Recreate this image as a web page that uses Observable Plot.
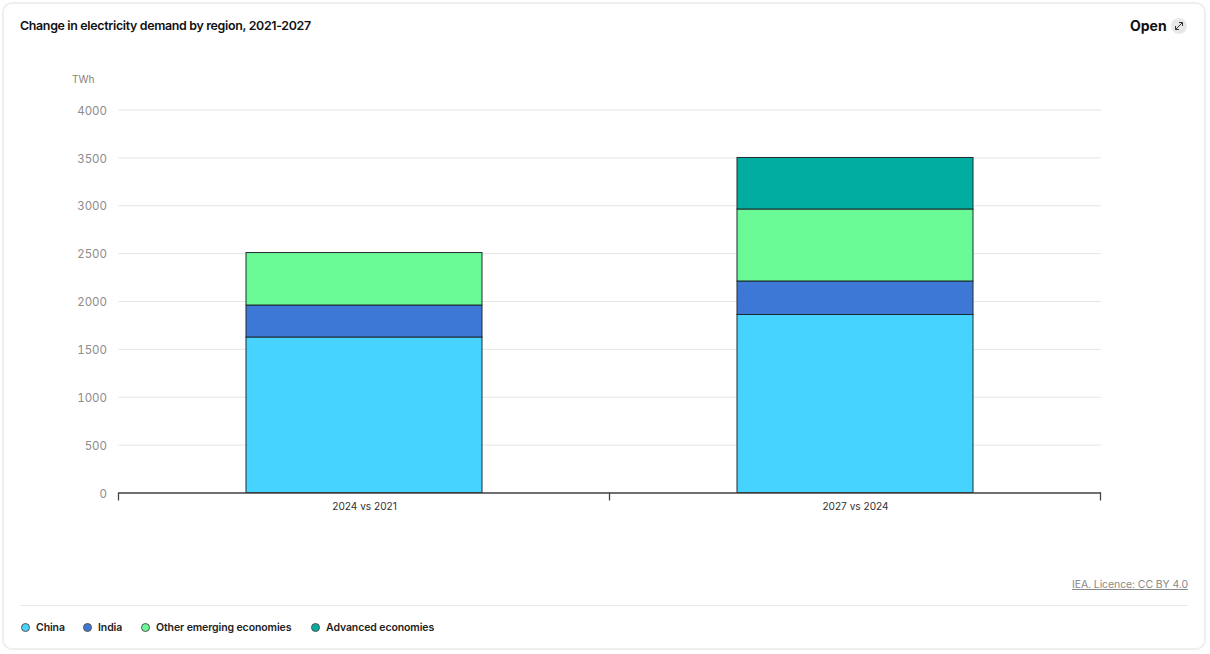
<!DOCTYPE html>
<html>
<head>
<meta charset="utf-8">
<script src="https://cdn.jsdelivr.net/npm/d3@7"></script>
<script src="https://cdn.jsdelivr.net/npm/@observablehq/plot@0.6"></script>
<style>
html,body{margin:0;padding:0;background:#fff;font-family:Inter,sans-serif;}
#page{position:relative;width:1210px;height:654px;overflow:hidden;}
#card{position:absolute;left:2px;top:2px;width:1200px;height:644px;border:2px solid #efefef;border-radius:10px;}
#title{position:absolute;left:20px;top:17px;font-size:12.4px;letter-spacing:-0.32px;font-weight:600;color:#111;line-height:17px;white-space:nowrap;}
#open{position:absolute;left:1130px;top:17px;font-size:14px;font-weight:700;color:#111;line-height:18px;}
#icon{position:absolute;left:1171px;top:18px;width:16px;height:16px;border-radius:50%;background:#e8e8e8;}
#icon svg{display:block;}
#chart{position:absolute;left:0;top:0;}
#licence{position:absolute;right:22px;top:577px;font-size:10.5px;letter-spacing:-0.1px;color:#8a8a8a;text-decoration:underline;line-height:15px;white-space:nowrap;}
#rule{position:absolute;left:20px;top:605px;width:1168px;height:1px;background:#e9e9e9;}
#legend span.item{position:absolute;top:620px;font-size:10.5px;letter-spacing:-0.1px;font-weight:600;color:#222;line-height:16px;white-space:nowrap;}
#legend i{position:absolute;top:623px;width:7px;height:7px;border-radius:50%;border:0.5px solid #555;}
</style>
</head>
<body>
<div id="page">
  <div id="card"></div>
  <div id="title">Change in electricity demand by region, 2021-2027</div>
  <div id="open">Open</div>
  <div id="icon"><svg width="16" height="16" viewBox="0 0 16 16"><path d="M4.5 11.5 L11.5 4.5 M8 4.5 H11.5 V8 M4.5 8 V11.5 H8" fill="none" stroke="#333" stroke-width="1"/></svg></div>
  <div id="chart"></div>
  <div id="licence">IEA. Licence: CC BY 4.0</div>
  <div id="rule"></div>
  <div id="legend"></div>
</div>
<script>
const categories = ["2024 vs 2021", "2027 vs 2024"];
const regions = ["China", "India", "Other emerging economies", "Advanced economies"];
const colours = ["#47D3FF", "#3E78D6", "#69F995", "#00ADA0"];
const china = [1624, 1859];
const india = [334, 350];
const otherEmerging = [548, 752];
const advanced = [0, 538];
const yTicks = [0, 500, 1000, 1500, 2000, 2500, 3000, 3500, 4000];

const seriesValues = [china, india, otherEmerging, advanced];
const rows = regions.flatMap((region, r) =>
  categories.map((category, c) => ({category, region, value: seriesValues[r][c]}))
).filter(d => d.value > 0);

// Tick marks at the boundaries between categories, placed from the band scale.
function bandBoundaries(index, scales, values, dimensions) {
  const x = scales.x, bw = x.bandwidth();
  const step = x(categories[1]) - x(categories[0]);
  const gap = (step - bw) / 2;
  const edges = [x(categories[0]) - gap, x(categories[1]) - gap, x(categories[1]) + bw + gap];
  const y0 = dimensions.height - dimensions.marginBottom;
  const g = d3.create("svg:g");
  g.selectAll("line").data(edges).join("line")
    .attr("x1", d => d).attr("x2", d => d)
    .attr("y1", y0).attr("y2", y0 + 8)
    .attr("stroke", "#444").attr("stroke-width", 1.3);
  return g.node();
}

const plot = Plot.plot({
  width: 1210,
  height: 560,
  marginLeft: 118.5,
  marginRight: 109,
  marginTop: 109.5,
  marginBottom: 67.5,
  style: {fontFamily: "Inter, sans-serif", background: "transparent", overflow: "visible"},
  x: {domain: categories, type: "band", paddingInner: 0.52, paddingOuter: 0.26, align: 0.5, label: null},
  y: {domain: [0, 4000], label: null},
  color: {domain: regions, range: colours},
  marks: [
    Plot.gridY(yTicks, {stroke: "#e6e6e6", strokeOpacity: 1, strokeWidth: 1}),
    Plot.barY(rows, {
      x: "category", y: "value", fill: "region", order: regions,
      stroke: "#1f2a30", strokeWidth: 1
    }),
    Plot.ruleY([0], {stroke: "#444", strokeWidth: 1.3}),
    bandBoundaries,
    Plot.axisY(yTicks, {
      tickSize: 0, tickPadding: 12, dy: 1, fontSize: 11.5, color: "#8c8c8c",
      tickFormat: d3.format("d"), label: null
    }),
    Plot.axisX({tickSize: 0, tickPadding: 10, fontSize: 10.1, color: "#333", label: null}),
    Plot.text(["TWh"], {
      frameAnchor: "top-left", dx: -47, dy: -30, textAnchor: "start", lineAnchor: "middle",
      fontSize: 10.2, fill: "#8a8178"
    })
  ]
});
document.getElementById("chart").appendChild(plot);

const legendDots = [21, 83, 141, 311];
const legendText = [36, 98, 156, 326];
const legend = document.getElementById("legend");
regions.forEach((r, i) => {
  const dot = document.createElement("i");
  dot.style.left = legendDots[i] + "px";
  dot.style.background = colours[i];
  legend.appendChild(dot);
  const t = document.createElement("span");
  t.className = "item";
  t.style.left = legendText[i] + "px";
  t.textContent = r;
  legend.appendChild(t);
});
</script>
</body>
</html>
